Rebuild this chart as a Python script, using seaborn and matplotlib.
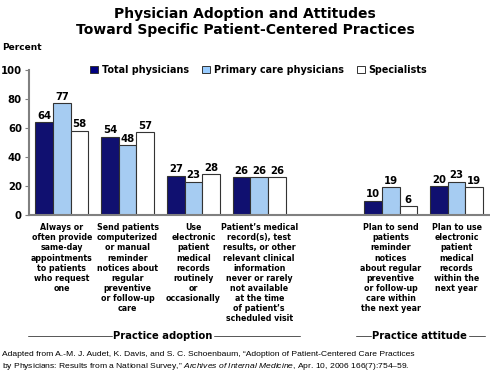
import pandas as pd
import matplotlib.pyplot as plt
import seaborn as sns
from matplotlib.lines import Line2D

# Data
categories = [
    "Always or\noften provide\nsame-day\nappointments\nto patients\nwho request\none",
    "Send patients\ncomputerized\nor manual\nreminder\nnotices about\nregular\npreventive\nor follow-up\ncare",
    "Use\nelectronic\npatient\nmedical\nrecords\nroutinely\nor\noccasionally",
    "Patient\u2019s medical\nrecord(s), test\nresults, or other\nrelevant clinical\ninformation\nnever or rarely\nnot available\nat the time\nof patient\u2019s\nscheduled visit",
    "Plan to send\npatients\nreminder\nnotices\nabout regular\npreventive\nor follow-up\ncare within\nthe next year",
    "Plan to use\nelectronic\npatient\nmedical\nrecords\nwithin the\nnext year",
]
total_physicians = [64, 54, 27, 26, 10, 20]
primary_care = [77, 48, 23, 26, 19, 23]
specialists = [58, 57, 28, 26, 6, 19]
groups = ["Total physicians", "Primary care physicians", "Specialists"]
colors = ["#000080", "#99CCFF", "#FFFFFF"]

# empty slot between adoption and attitude groups
order = categories[:4] + [" "] + categories[4:]

rows = []
for g, vals in zip(groups, [total_physicians, primary_care, specialists]):
    for c, v in zip(categories, vals):
        rows.append({"cat": c, "group": g, "value": v})
df = pd.DataFrame(rows)

sns.set_style("white")
plt.rcParams["font.family"] = ["Liberation Sans", "DejaVu Sans"]
plt.rcParams["mathtext.fontset"] = "custom"
plt.rcParams["mathtext.it"] = "Liberation Sans:italic"
plt.rcParams["mathtext.rm"] = "Liberation Sans"
plt.rcParams["text.color"] = "black"
plt.rcParams["xtick.labelcolor"] = "black"
plt.rcParams["ytick.labelcolor"] = "black"
BOLD = ["DejaVu Sans"]

fig = plt.figure(figsize=(4.9, 3.74), dpi=100)
ax = fig.add_axes([0.059, 0.425, 0.94, 0.388])

sns.barplot(data=df, x="cat", y="value", hue="group", order=order,
            hue_order=groups, palette=colors, edgecolor="#333333",
            linewidth=0.8, width=0.8, ax=ax, legend=False)

for cont in ax.containers:
    ax.bar_label(cont, fontsize=7.3, fontweight="bold", family=BOLD, padding=1, color="black")

ax.set_ylim(0, 100)
ax.set_xlim(-0.5, 6.5)
ax.set_yticks([0, 20, 40, 60, 80, 100])
ax.set_xlabel("")
ax.set_ylabel("")
for s in ["top", "right"]:
    ax.spines[s].set_visible(False)
ax.spines["left"].set_color("#808080")
ax.spines["bottom"].set_color("#808080")
ax.spines["left"].set_linewidth(1.5)
ax.spines["bottom"].set_linewidth(1.5)
ax.tick_params(axis="y", length=3, color="#808080", labelsize=7.3, pad=2, left=True,
               labelcolor="black")
ax.tick_params(axis="x", length=0, labelsize=5.7, pad=6, labelcolor="black")
for t in ax.get_yticklabels():
    t.set_fontweight("bold")
    t.set_family(BOLD)
for t in ax.get_xticklabels():
    t.set_fontweight("bold")
    t.set_family(BOLD)
    t.set_linespacing(1.15)

# legend
handles = [plt.Rectangle((0, 0), 1, 1, facecolor=c, edgecolor="#333333", linewidth=0.7)
           for c in colors]
fig.legend(handles, groups, loc="center", bbox_to_anchor=(0.528, 0.813), ncol=3,
           frameon=False, prop={"weight": "bold", "size": 6.9, "family": BOLD},
           handlelength=0.8, handleheight=0.8, handletextpad=0.4, columnspacing=1.4,
           labelcolor="black")

# title
fig.text(0.5, 0.982, "Physician Adoption and Attitudes\nToward Specific Patient-Centered Practices",
         ha="center", va="top", fontsize=10, fontweight="bold", family=BOLD, linespacing=1.25)
fig.text(0.005, 0.873, "Percent", fontsize=6.5, fontweight="bold", family=BOLD, va="center")

# group labels with rules
y_grp = 1 - 336 / 374
fig.text(0.333, y_grp, "Practice adoption", ha="center", va="center",
         fontsize=7.2, fontweight="bold", family=BOLD)
fig.text(0.857, y_grp, "Practice attitude", ha="center", va="center",
         fontsize=7.2, fontweight="bold", family=BOLD)
for x0, x1 in [(28, 112), (214, 300), (356, 371), (469, 485)]:
    fig.add_artist(Line2D([x0 / 490, x1 / 490], [y_grp, y_grp], color="#555555", linewidth=0.7))

# source note
fig.text(0.004, 1 - 355 / 374,
         "Adapted from A.-M. J. Audet, K. Davis, and S. C. Schoenbaum, \u201cAdoption of Patient-Centered Care Practices",
         fontsize=6.1, va="center")
fig.text(0.004, 1 - 367 / 374,
         "by Physicians: Results from a National Survey,\u201d $\\it{Archives\\ of\\ Internal\\ Medicine}$, Apr. 10, 2006 166(7):754\u201359.",
         fontsize=6.1, va="center")

fig.savefig("out.png", dpi=100)
